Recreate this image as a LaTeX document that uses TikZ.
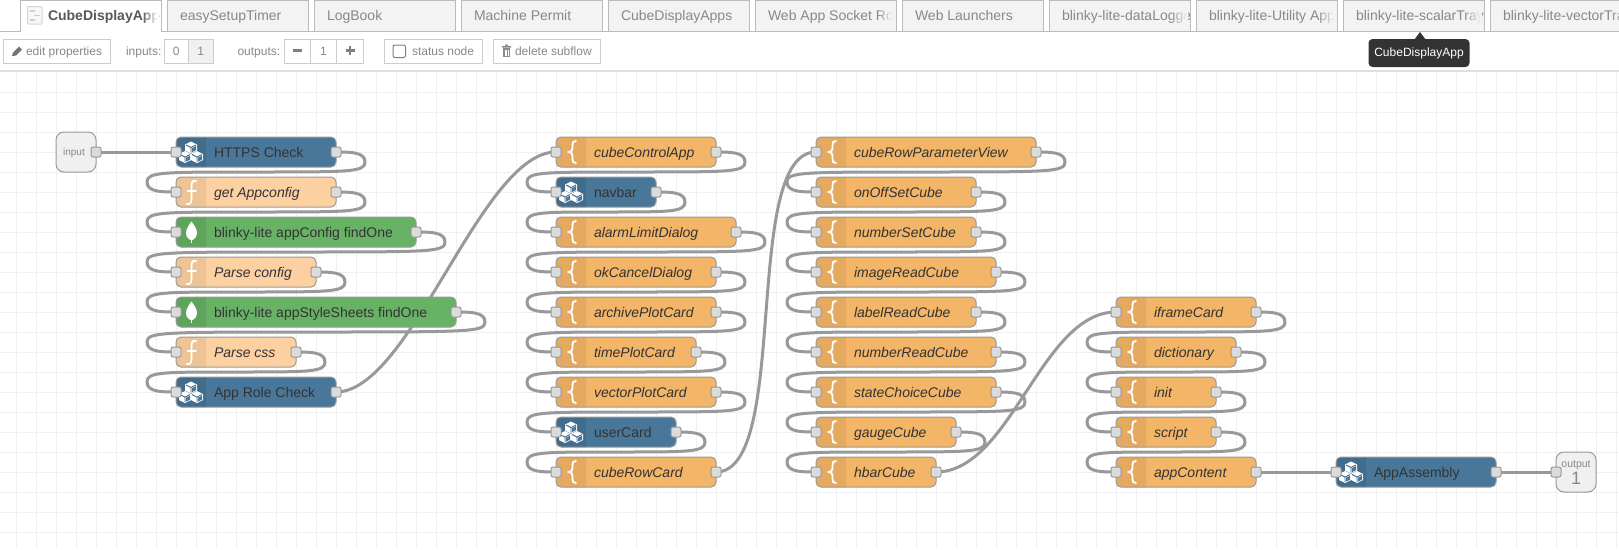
\documentclass[tikz,border=0pt]{standalone}
\usepackage{fontspec}
\setmainfont{Liberation Sans}
\usetikzlibrary{calc}
\pgfdeclarelayer{bg}
\pgfsetlayers{bg,main}
\definecolor{gridc}{HTML}{F0F0F0}
\definecolor{wirec}{HTML}{999999}
\definecolor{tabbg}{HTML}{F3F3F3}
\definecolor{tabln}{HTML}{BBBBBB}
\definecolor{txtg}{HTML}{888888}
\definecolor{btnln}{HTML}{CCCCCC}
\definecolor{nodetxt}{HTML}{333333}
\definecolor{subcol}{HTML}{49779A}
\definecolor{funccol}{HTML}{FDD0A2}
\definecolor{tmplcol}{HTML}{F3B567}
\definecolor{mongocol}{HTML}{68B266}
\definecolor{subdark}{HTML}{426C8B}
\definecolor{funcdark}{HTML}{EEC395}
\definecolor{tmpldark}{HTML}{E5AA60}
\definecolor{mongodark}{HTML}{5FA45D}
\tikzset{
  every node/.style={outer sep=0pt},
  wire/.style={draw=wirec,line width=3pt},
  nodebody/.style={draw=wirec,line width=1pt,rounded corners=5pt,minimum height=30pt,inner sep=0pt,anchor=west},
  port/.style={draw=wirec,fill=gray!28,line width=1pt,rounded corners=2pt,minimum width=10pt,minimum height=10pt,inner sep=0pt},
  nodelabel/.style={text=nodetxt,anchor=base west,inner sep=0pt,font=\fontsize{14}{16}\selectfont},
  tabbox/.style={draw=tabln,line width=1pt,fill=tabbg,anchor=north west,minimum width=141pt,minimum height=31pt,inner sep=0pt},
  tabtext/.style={text=txtg,anchor=base west,inner sep=0pt,font=\fontsize{14}{16}\selectfont},
  btn/.style={draw=btnln,line width=1pt,fill=white,minimum height=24pt,inner sep=0pt,anchor=west,text=txtg,font=\fontsize{12}{14}\selectfont},
  barlabel/.style={text=txtg,inner sep=0pt,anchor=base west,font=\fontsize{12}{14}\selectfont},
  ionode/.style={draw=wirec,fill=gridc,line width=1pt,rounded corners=8pt,minimum width=40pt,minimum height=40pt,inner sep=0pt},
  iotext/.style={text=txtg,inner sep=0pt,anchor=base},
  glyph/.style={draw=white,line width=1.8pt,line cap=round},
}
\newcommand{\onecube}[2]{%
  \fill[white] (#1-6,#2-3) -- (#1,#2-6) -- (#1+6,#2-3) -- (#1+6,#2+3) -- (#1,#2+6) -- (#1-6,#2+3) -- cycle;
  \draw[subdark,line width=.9pt] (#1-5,#2-2.5) -- (#1,#2) -- (#1+5,#2-2.5) (#1,#2) -- (#1,#2+5);
  \fill[subcol] (#1+.8,#2+.8) -- (#1+5,#2-1.4) -- (#1+5,#2+2.6) -- (#1+.8,#2+4.8) -- cycle;
}
\newcommand{\iconsub}[2]{\onecube{#1+15}{#2-4.5}\onecube{#1+9}{#2+5}\onecube{#1+21}{#2+5}}
\newcommand{\iconfunc}[2]{%
  \draw[glyph] (#1+20,#2-11) .. controls (#1+17,#2-12) and (#1+15.5,#2-10) .. (#1+15.5,#2-6) -- (#1+15.5,#2+7) .. controls (#1+15.5,#2+11) and (#1+13.5,#2+13) .. (#1+10.5,#2+12);
  \draw[glyph] (#1+11.5,#2-1) -- (#1+20,#2-1);
}
\newcommand{\icontmpl}[2]{%
  \draw[glyph] (#1+20,#2-11) .. controls (#1+17,#2-11) and (#1+16.5,#2-9.5) .. (#1+16.5,#2-7) -- (#1+16.5,#2-3.5) .. controls (#1+16.5,#2-1.5) and (#1+15,#2) .. (#1+13,#2) .. controls (#1+15,#2) and (#1+16.5,#2+1.5) .. (#1+16.5,#2+3.5) -- (#1+16.5,#2+7) .. controls (#1+16.5,#2+9.5) and (#1+17,#2+11) .. (#1+20,#2+11);
}
\newcommand{\iconmongo}[2]{%
  \fill[white] (#1+15.5,#2-10.5) .. controls (#1+18,#2-7) and (#1+21,#2-3) .. (#1+21,#2+1) .. controls (#1+21,#2+5) and (#1+18,#2+7.5) .. (#1+15.5,#2+8.5) .. controls (#1+13,#2+7.5) and (#1+10,#2+5) .. (#1+10,#2+1) .. controls (#1+10,#2-3) and (#1+13,#2-7) .. (#1+15.5,#2-10.5) -- cycle;
  \draw[white,line width=1pt] (#1+15.5,#2+7) -- (#1+15.5,#2+11);
}
\newcommand{\flownode}[6]{%
  \fill[#5col,rounded corners=5pt] (#2,#4-15) rectangle (#2+#3,#4+15);
  \fill[#5dark] (#2+30,#4-15) [rounded corners=5pt] -- (#2,#4-15) -- (#2,#4+15) [sharp corners] -- (#2+30,#4+15) -- cycle;
  \csname icon#5\endcsname{#2}{#4}%
  \node[nodebody,minimum width=#3pt] (#1) at (#2,#4) {};
  \node[nodelabel] (#1t) at (#2+38,#4+5) {#6};
  \node[port] (#1i) at (#1.west) {};
  \node[port] (#1o) at (#1.east) {};
}
\newcommand{\fadestrip}[2]{%
  \foreach \i in {0,...,7}{\pgfmathsetmacro{\op}{(\i+1)/8}\fill[#2,opacity=\op] (#1-17+2*\i,2) rectangle (#1-15+2*\i,30);}
}
\newcommand{\tabitem}[3]{%
  \node[tabbox] (#1) at (#2,0.5) {};
  \begin{scope}
    \clip (#2,0) rectangle (#2+140.5,31);
    \node[tabtext] (#1t) at (#2+13,20) {#3};
  \end{scope}
  \fadestrip{#2+140}{tabbg}
}
\newcommand{\loopwire}[2]{%
  \draw[wire] (#1o.center)
    .. controls ($(#1o.center)+(14.5,0)$) and ($(#1o.center)+(29,0)$) .. ($(#1o.center)+(29,10)$)
    .. controls ($(#1o.center)+(29,20)$) and ($(#1o.center)+(14.5,20)$) .. ($(#1o.center)!0.5!(#2i.center)$)
    .. controls ($(#2i.center)+(-14.5,-20)$) and ($(#2i.center)+(-29,-20)$) .. ($(#2i.center)+(-29,-10)$)
    .. controls ($(#2i.center)+(-29,0)$) and ($(#2i.center)+(-14.5,0)$) .. (#2i.center);
}
\newcommand{\swire}[2]{%
  \draw[wire] (#1o.center) .. controls ($(#1o.center)+(75,0)$) and ($(#2i.center)+(-75,0)$) .. (#2i.center);
}
\begin{document}
\begin{tikzpicture}[x=1pt,y=-1pt]
\useasboundingbox (0,0) rectangle (1619,549);
\begin{pgfonlayer}{bg}
  \fill[white] (0,0) rectangle (1619,549);
  \foreach \gx in {16,36,...,1616}{\draw[gridc,line width=1pt] (\gx,72) -- (\gx,549);}
  \foreach \gy in {92,112,...,532}{\draw[gridc,line width=1pt] (0,\gy) -- (1619,\gy);}
\end{pgfonlayer}

% tab bar
\draw[tabln,line width=1pt] (0,31.5) -- (1619,31.5);
\draw[gray!25,line width=1.2pt] (0,71) -- (1619,71);
\node[tabbox,fill=white] (tabA) at (20,0.5) {};
\fill[white] (20.5,30) rectangle (160.5,32.5);
\draw[tabln!60,line width=1pt,rounded corners=1pt,fill=gray!6] (27.5,6.5) rectangle (42,24);
\draw[tabln!70,line width=1.4pt] (30,11) -- (35,11) (34,15.5) -- (40,15.5) (30,20) -- (35,20);
\begin{scope}
  \clip (20,0) rectangle (160.5,31);
  \node[tabtext,text=gray!130!white,font=\fontsize{14}{16}\selectfont\bfseries] (tabAt) at (48,20) {CubeDisplayApp};
\end{scope}
\fadestrip{160}{white}
\tabitem{tabB}{167}{easySetupTimer}
\tabitem{tabC}{314}{LogBook}
\tabitem{tabD}{461}{Machine Permit}
\tabitem{tabE}{608}{CubeDisplayApps}
\tabitem{tabF}{755}{Web App Socket Ro}
\tabitem{tabG}{902}{Web Launchers}
\tabitem{tabH}{1049}{blinky-lite-dataLogge}
\tabitem{tabI}{1196}{blinky-lite-Utility App}
\tabitem{tabJ}{1343}{blinky-lite-scalarTray}
\tabitem{tabK}{1490}{blinky-lite-vectorTra}

% toolbar
\node[btn,minimum width=107pt] (bEdit) at (3.5,51) {};
\fill[txtg!85!black] (12,56) -- (13,52.5) -- (19,46.5) -- (22,49.5) -- (16,55.5) -- cycle;
\node[barlabel] (tEdit) at (26,55) {edit properties};
\node[barlabel] (tIn) at (126,55) {inputs:};
\node[btn,minimum width=24.5pt] (bI0) at (164,51) {};
\node[btn,minimum width=24.5pt,fill=gridc] (bI1) at (188.5,51) {};
\node[barlabel,anchor=base] (tI0) at (176.2,55) {0};
\node[barlabel,anchor=base] (tI1) at (200.7,55) {1};
\node[barlabel] (tOut) at (237.5,55) {outputs:};
\node[btn,minimum width=26.5pt] (bMinus) at (284,51) {};
\node[btn,minimum width=26pt] (bCount) at (310.5,51) {};
\node[btn,minimum width=27pt] (bPlus) at (336.5,51) {};
\node[barlabel,anchor=base] (tCount) at (323.5,55) {1};
\draw[gray,line width=2.6pt] (292.5,50.5) -- (301.5,50.5);
\draw[gray,line width=2.6pt] (345.5,50.5) -- (354.5,50.5) (350,46) -- (350,55);
\node[btn,minimum width=98.5pt] (bStatus) at (384,51) {};
\draw[gray,line width=1pt,rounded corners=2pt,fill=white] (393,45) rectangle (405.5,57.5);
\node[barlabel] (tStatus) at (412,55) {status node};
\node[btn,minimum width=107pt] (bDel) at (493,51) {};
\fill[gray!90] (502,46) rectangle (511,47.5) (505,44.5) rectangle (508,46);
\fill[gray!90] (503,48) rectangle (510,57);
\draw[white,line width=.5pt] (505,49.5) -- (505,55.5) (506.5,49.5) -- (506.5,55.5) (508,49.5) -- (508,55.5);
\node[barlabel] (tDel) at (515,55) {delete subflow};

% tooltip
\fill[nodetxt] (1414,40) -- (1420,32) -- (1426,40) -- cycle;
\node[fill=nodetxt,rounded corners=4pt,minimum width=101pt,minimum height=28pt,inner sep=0pt,text=white,font=\fontsize{12}{14}\selectfont] (tip) at (1419,53) {CubeDisplayApp};

% flow nodes, column 1
\node[ionode] (input) at (76,152) {};
\node[iotext,font=\fontsize{10}{12}\selectfont] (inputt) at (74,155) {input};
\node[port] (inputo) at (input.east) {};
\flownode{a}{176}{160}{152}{sub}{HTTPS Check}
\flownode{b}{176}{160}{192}{func}{\itshape get Appconfig}
\flownode{c}{176}{240}{232}{mongo}{blinky-lite appConfig findOne}
\flownode{d}{176}{140}{272}{func}{\itshape Parse config}
\flownode{e}{176}{280}{312}{mongo}{blinky-lite appStyleSheets findOne}
\flownode{f}{176}{120}{352}{func}{\itshape Parse css}
\flownode{g}{176}{160}{392}{sub}{App Role Check}
% column 2
\flownode{h}{556}{160}{152}{tmpl}{\itshape cubeControlApp}
\flownode{i}{556}{100}{192}{sub}{navbar}
\flownode{j}{556}{180}{232}{tmpl}{\itshape alarmLimitDialog}
\flownode{k}{556}{160}{272}{tmpl}{\itshape okCancelDialog}
\flownode{l}{556}{160}{312}{tmpl}{\itshape archivePlotCard}
\flownode{m}{556}{140}{352}{tmpl}{\itshape timePlotCard}
\flownode{n}{556}{160}{392}{tmpl}{\itshape vectorPlotCard}
\flownode{o}{556}{120}{432}{sub}{userCard}
\flownode{p}{556}{160}{472}{tmpl}{\itshape cubeRowCard}
% column 3
\flownode{q}{816}{220}{152}{tmpl}{\itshape cubeRowParameterView}
\flownode{r}{816}{160}{192}{tmpl}{\itshape onOffSetCube}
\flownode{s}{816}{160}{232}{tmpl}{\itshape numberSetCube}
\flownode{t}{816}{180}{272}{tmpl}{\itshape imageReadCube}
\flownode{u}{816}{160}{312}{tmpl}{\itshape labelReadCube}
\flownode{v}{816}{180}{352}{tmpl}{\itshape numberReadCube}
\flownode{w}{816}{180}{392}{tmpl}{\itshape stateChoiceCube}
\flownode{x}{816}{140}{432}{tmpl}{\itshape gaugeCube}
\flownode{y}{816}{120}{472}{tmpl}{\itshape hbarCube}
% column 4
\flownode{z}{1116}{140}{312}{tmpl}{\itshape iframeCard}
\flownode{aa}{1116}{120}{352}{tmpl}{\itshape dictionary}
\flownode{ab}{1116}{100}{392}{tmpl}{\itshape init}
\flownode{ac}{1116}{100}{432}{tmpl}{\itshape script}
\flownode{ad}{1116}{140}{472}{tmpl}{\itshape appContent}
\flownode{ae}{1336}{160}{472}{sub}{AppAssembly}
\node[ionode] (output) at (1576,472) {};
\node[iotext,font=\fontsize{10.5}{12}\selectfont] (outputt) at (1576,467) {output};
\node[iotext,font=\fontsize{18}{20}\selectfont] (outputn) at (1576,484) {1};
\node[port] (outputi) at (output.west) {};

\begin{pgfonlayer}{bg}
  \draw[wire] (inputo.center) -- (ai.center);
  \loopwire{a}{b}\loopwire{b}{c}\loopwire{c}{d}\loopwire{d}{e}\loopwire{e}{f}\loopwire{f}{g}
  \swire{g}{h}
  \loopwire{h}{i}\loopwire{i}{j}\loopwire{j}{k}\loopwire{k}{l}\loopwire{l}{m}\loopwire{m}{n}\loopwire{n}{o}\loopwire{o}{p}
  \swire{p}{q}
  \loopwire{q}{r}\loopwire{r}{s}\loopwire{s}{t}\loopwire{t}{u}\loopwire{u}{v}\loopwire{v}{w}\loopwire{w}{x}\loopwire{x}{y}
  \swire{y}{z}
  \loopwire{z}{aa}\loopwire{aa}{ab}\loopwire{ab}{ac}\loopwire{ac}{ad}
  \draw[wire] (ado.center) -- (aei.center);
  \draw[wire] (aeo.center) -- (outputi.center);
\end{pgfonlayer}
\end{tikzpicture}
\end{document}
